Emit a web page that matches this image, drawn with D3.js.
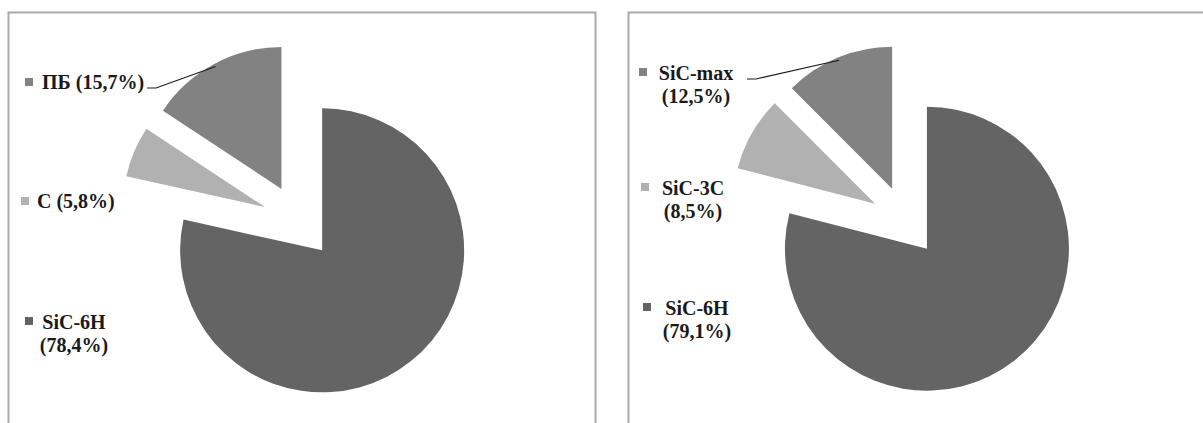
<!DOCTYPE html>
<html>
<head>
<meta charset="utf-8">
<script src="https://cdn.jsdelivr.net/npm/d3@7"></script>
<style>
  html, body { margin: 0; padding: 0; background: #fff; }
  svg { display: block; }
</style>
</head>
<body>
<svg id="chart" width="1203" height="423"></svg>
<script>
// Phase composition, left sample
const leftCategories = ["SiC-6H", "C", "ПБ"];
const leftValues = [78.4, 5.8, 15.7];

// Phase composition, right sample
const rightCategories = ["SiC-6H", "SiC-3C", "SiC-max"];
const rightValues = [79.1, 8.5, 12.5];

const sliceColors = ["#646464", "#b1b1b1", "#828282"];

const fmt = v => "(" + v.toFixed(1).replace(".", ",") + "%)";
const FONT = "'Liberation Serif', 'DejaVu Serif', 'Times New Roman', serif";

const svg = d3.select("#chart");

// Panel frames (open at the bottom)
function frame(x0, x1) {
  svg.append("path")
    .attr("d", `M${x0},430 V12.5 H${x1} V430`)
    .attr("fill", "none")
    .attr("stroke", "#a9a9a9")
    .attr("stroke-width", 2);
}
frame(8.5, 595.5);
frame(628.5, 1210);

// Layout of each panel: pie centre, radius, explosion offset, label placement
const panels = [
  {
    categories: leftCategories, values: leftValues,
    cx: 299, cy: 221.5, r: 142, explode: 37,
    labels: [
      { x: 25, y: 317, lines: 2, cxText: 74 },     // SiC-6H
      { x: 21, y: 197, lines: 1, tx: 37 },         // C
      { x: 25, y: 78, lines: 1, tx: 42, leader: [147, 88] } // ПБ
    ]
  },
  {
    categories: rightCategories, values: rightValues,
    cx: 905.5, cy: 221, r: 142, explode: 35,
    labels: [
      { x: 643, y: 303, lines: 2, cxText: 697 },   // SiC-6H
      { x: 641, y: 183, lines: 2, cxText: 693 },   // SiC-3C
      { x: 639, y: 68, lines: 2, cxText: 696, leader: [747, 79] } // SiC-max
    ]
  }
];

function label(sel) {
  return sel.attr("font-family", FONT)
    .attr("font-weight", "bold")
    .attr("font-size", 20)
    .attr("fill", "#1a1a1a");
}

panels.forEach(p => {
  const pie = d3.pie().sort(null).value(d => d.value).startAngle(0).endAngle(2 * Math.PI);
  const data = pie(p.categories.map((c, i) => ({ name: c, value: p.values[i] })));
  const arc = d3.arc().innerRadius(0).outerRadius(p.r);

  const g = svg.append("g").attr("transform", `translate(${p.cx},${p.cy})`);

  const offset = d => {
    const a = (d.startAngle + d.endAngle) / 2;
    return [p.explode * Math.sin(a), -p.explode * Math.cos(a)];
  };

  g.selectAll("path.slice")
    .data(data)
    .join("path")
    .attr("class", "slice")
    .attr("d", arc)
    .attr("fill", (d, i) => sliceColors[i])
    .attr("transform", d => { const o = offset(d); return `translate(${o[0]},${o[1]})`; });

  // Labels with legend keys
  data.forEach((d, i) => {
    const L = p.labels[i];
    svg.append("rect")
      .attr("x", L.x).attr("y", L.y)
      .attr("width", 8).attr("height", 8)
      .attr("fill", sliceColors[i]);

    if (L.lines === 1) {
      label(svg.append("text"))
        .attr("x", L.tx).attr("y", L.y + 11)
        .text(d.data.name + " " + fmt(d.data.value));
    } else {
      const t = label(svg.append("text")).attr("text-anchor", "middle");
      t.append("tspan").attr("x", L.cxText).attr("y", L.y + 12).text(d.data.name);
      t.append("tspan").attr("x", L.cxText).attr("y", L.y + 35).text(fmt(d.data.value));
    }

    if (L.leader) {
      const o = offset(d);
      const a = (d.startAngle + d.endAngle) / 2;
      const ex = p.cx + o[0] + (p.r - 3) * Math.sin(a);
      const ey = p.cy + o[1] - (p.r - 3) * Math.cos(a);
      const [sx, sy] = L.leader;
      svg.append("path")
        .attr("d", `M${sx},${sy} H${sx + 9} L${ex},${ey}`)
        .attr("fill", "none")
        .attr("stroke", "#1a1a1a")
        .attr("stroke-width", 1.2);
    }
  });
});
</script>
</body>
</html>
